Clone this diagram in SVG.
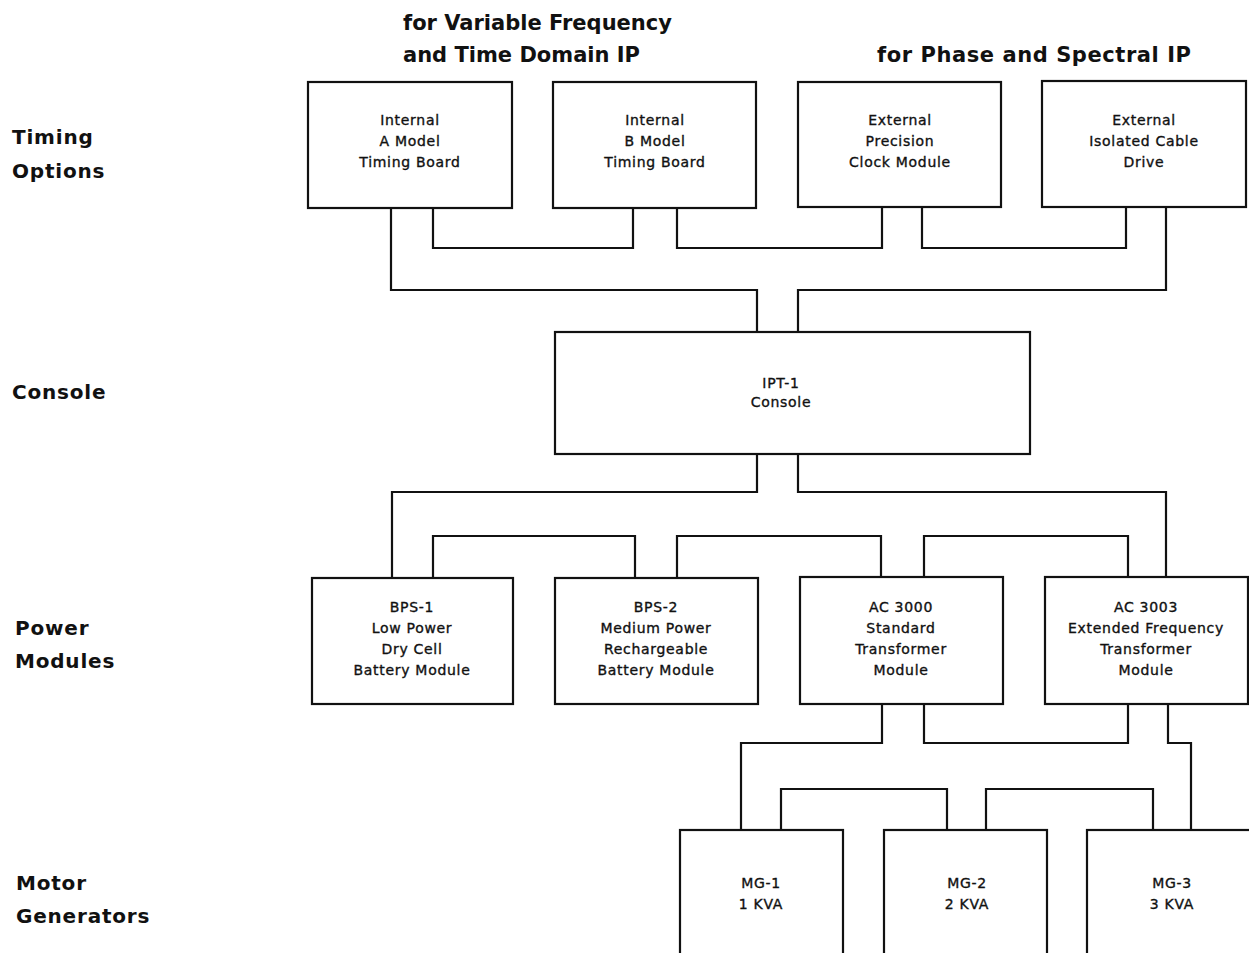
<svg xmlns="http://www.w3.org/2000/svg" width="1249" height="953" viewBox="0 0 1249 953">
<style>
.box{fill:#fff;stroke:#111;stroke-width:2.2}
.wire{fill:none;stroke:#111;stroke-width:2.2;stroke-linejoin:miter}
.t{font-family:"DejaVu Sans","Liberation Sans",sans-serif;font-size:14px;letter-spacing:0.7px;fill:#111;stroke:#111;stroke-width:0.35;text-anchor:middle}
.h{font-family:"DejaVu Sans","Liberation Sans",sans-serif;font-size:21px;font-weight:bold;fill:#111}
.l{font-family:"DejaVu Sans","Liberation Sans",sans-serif;font-size:20px;font-weight:bold;letter-spacing:0.8px;fill:#111}
</style>
<rect width="1249" height="953" fill="#fff"/>
<g id="headings">
<text class="h" x="403" y="30">for Variable Frequency</text>
<text class="h" x="403" y="62">and Time Domain IP</text>
<text class="h" x="877" y="62" textLength="314" lengthAdjust="spacing">for Phase and Spectral IP</text>
</g>
<g id="row-labels">
<text class="l" x="12" y="144">Timing</text>
<text class="l" x="12" y="178">Options</text>
<text class="l" x="12" y="399">Console</text>
<text class="l" x="15" y="635">Power</text>
<text class="l" x="15" y="668">Modules</text>
<text class="l" x="16" y="890">Motor</text>
<text class="l" x="16" y="923">Generators</text>
</g>
<g id="connectors">
<path class="wire" d="M391,208 V290 H757 V332"/>
<path class="wire" d="M433,208 V248 H633 V208"/>
<path class="wire" d="M677,208 V248 H882 V207"/>
<path class="wire" d="M922,207 V248 H1126 V207"/>
<path class="wire" d="M1166,207 V290 H798 V332"/>
<path class="wire" d="M757,454 V492 H392 V578"/>
<path class="wire" d="M798,454 V492 H1166 V577"/>
<path class="wire" d="M433,578 V536 H635 V578"/>
<path class="wire" d="M677,578 V536 H881 V577"/>
<path class="wire" d="M924,577 V536 H1128 V577"/>
<path class="wire" d="M882,704 V743 H741 V830"/>
<path class="wire" d="M924,704 V743 H1128 V704"/>
<path class="wire" d="M1168,704 V743 H1191 V830"/>
<path class="wire" d="M781,830 V789 H947 V830"/>
<path class="wire" d="M986,830 V789 H1153 V830"/>
</g>
<g id="timing-a">
<rect class="box" x="308" y="82" width="204" height="126"/>
<text class="t" x="410" y="125">Internal</text>
<text class="t" x="410" y="146">A Model</text>
<text class="t" x="410" y="167">Timing Board</text>
</g>
<g id="timing-b">
<rect class="box" x="553" y="82" width="203" height="126"/>
<text class="t" x="655" y="125">Internal</text>
<text class="t" x="655" y="146">B Model</text>
<text class="t" x="655" y="167">Timing Board</text>
</g>
<g id="clock-module">
<rect class="box" x="798" y="82" width="203" height="125"/>
<text class="t" x="900" y="125">External</text>
<text class="t" x="900" y="146">Precision</text>
<text class="t" x="900" y="167">Clock Module</text>
</g>
<g id="cable-drive">
<rect class="box" x="1042" y="81" width="204" height="126"/>
<text class="t" x="1144" y="125">External</text>
<text class="t" x="1144" y="146">Isolated Cable</text>
<text class="t" x="1144" y="167">Drive</text>
</g>
<g id="console">
<rect class="box" x="555" y="332" width="475" height="122"/>
<text class="t" x="781" y="388">IPT-1</text>
<text class="t" x="781" y="407">Console</text>
</g>
<g id="bps-1">
<rect class="box" x="312" y="578" width="201" height="126"/>
<text class="t" x="412" y="612">BPS-1</text>
<text class="t" x="412" y="633">Low Power</text>
<text class="t" x="412" y="654">Dry Cell</text>
<text class="t" x="412" y="675">Battery Module</text>
</g>
<g id="bps-2">
<rect class="box" x="555" y="578" width="203" height="126"/>
<text class="t" x="656" y="612">BPS-2</text>
<text class="t" x="656" y="633">Medium Power</text>
<text class="t" x="656" y="654">Rechargeable</text>
<text class="t" x="656" y="675">Battery Module</text>
</g>
<g id="ac-3000">
<rect class="box" x="800" y="577" width="203" height="127"/>
<text class="t" x="901" y="612">AC 3000</text>
<text class="t" x="901" y="633">Standard</text>
<text class="t" x="901" y="654">Transformer</text>
<text class="t" x="901" y="675">Module</text>
</g>
<g id="ac-3003">
<rect class="box" x="1045" y="577" width="203" height="127"/>
<text class="t" x="1146" y="612">AC 3003</text>
<text class="t" x="1146" y="633">Extended Frequency</text>
<text class="t" x="1146" y="654">Transformer</text>
<text class="t" x="1146" y="675">Module</text>
</g>
<g id="mg-1">
<rect class="box" x="680" y="830" width="163" height="200"/>
<text class="t" x="761" y="888">MG-1</text>
<text class="t" x="761" y="909">1 KVA</text>
</g>
<g id="mg-2">
<rect class="box" x="884" y="830" width="163" height="200"/>
<text class="t" x="967" y="888">MG-2</text>
<text class="t" x="967" y="909">2 KVA</text>
</g>
<g id="mg-3">
<rect class="box" x="1087" y="830" width="172" height="200"/>
<text class="t" x="1172" y="888">MG-3</text>
<text class="t" x="1172" y="909">3 KVA</text>
</g>
</svg>
